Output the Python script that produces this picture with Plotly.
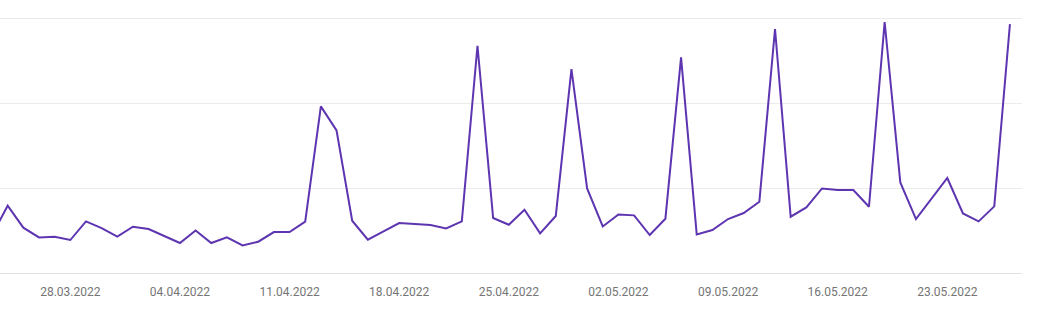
import pandas as pd
import plotly.graph_objects as go

start_date = "2022-03-23"
values = [
    44.5, 79.2, 53.3, 41.9, 42.7, 38.8, 60.7, 52.9, 42.7,          # 23.03-31.03
    54.5, 51.8, 43.9, 35.3, 50.1, 35.3, 41.9, 32.5, 36.8, 48.2,    # 01.04-10.04
    48.2, 60.4, 196.0, 167.8, 61.5, 39.2, 48.9, 58.8, 57.6, 56.5,  # 11.04-20.04
    52.5, 60.7, 267.4, 64.7, 56.8, 74.5, 46.6, 67.1, 240.0, 99.5,  # 21.04-30.04
    54.8, 68.9, 67.8, 44.7, 63.9, 253.6, 45.4, 50.6, 63.5, 70.6,   # 01.05-10.05
    83.9, 287.1, 66.2, 77.2, 99.5, 97.6, 97.6, 78.0, 295.3, 106.6, # 11.05-20.05
    63.5, 87.6, 111.8, 70.1, 60.7, 78.4, 292.9,                    # 21.05-27.05
]
dates = pd.date_range(start_date, periods=len(values), freq="D")
tick_dates = pd.date_range("2022-03-28", "2022-05-23", freq="7D")
tick_labels = [d.strftime("%d.%m.%Y") for d in tick_dates]
y_ticks = [0, 100, 200, 300]

fig = go.Figure(
    go.Scatter(
        x=dates, y=values, mode="lines",
        line=dict(color="#5e35b1", width=2),
        hoverinfo="skip",
    )
)

fig.update_layout(
    width=1049, height=315,
    margin=dict(l=0, r=27, t=17, b=42),
    paper_bgcolor="white", plot_bgcolor="white",
    showlegend=False,
    font=dict(family="Roboto", size=12, color="#757575"),
)
fig.update_xaxes(
    range=["2022-03-23 12:15", "2022-05-27 18:30"],
    tickvals=tick_dates, ticktext=tick_labels,
    showgrid=False, showline=False, zeroline=False,
    ticks="", ticklabelstandoff=10,
    tickfont=dict(family="Roboto", size=12, color="#757575"),
)
fig.update_yaxes(
    range=[0, 301.2], tickvals=y_ticks, showticklabels=False,
    showgrid=True, gridcolor="#ebebeb", gridwidth=1,
    zeroline=True, zerolinecolor="#e3e3e3", zerolinewidth=1,
    showline=False,
)

fig.write_html("out.html")
